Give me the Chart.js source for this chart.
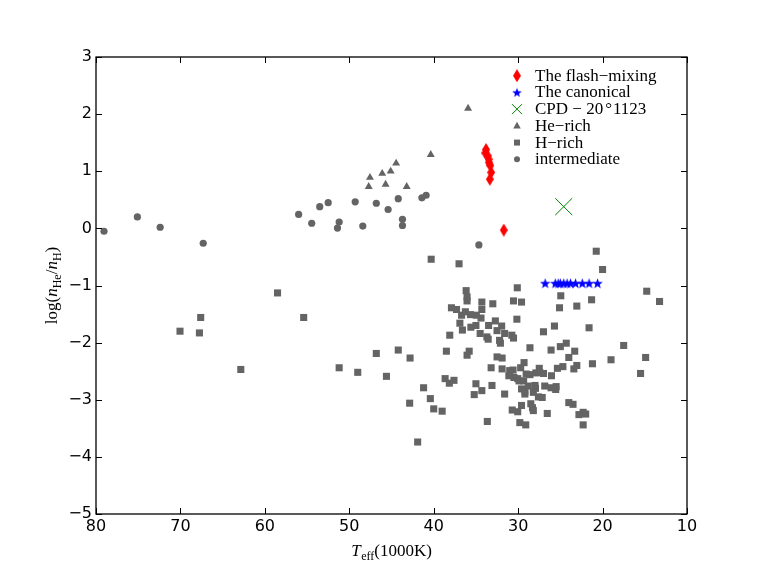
<!DOCTYPE html>
<html><head><meta charset="utf-8">
<script src="https://cdn.jsdelivr.net/npm/chart.js@4.4.0/dist/chart.umd.min.js"></script>
<style>html,body{margin:0;padding:0;background:#fff;}</style>
</head><body>
<canvas id="c" width="763" height="572" style="display:block;width:763px;height:572px"></canvas>
<script>
// ---- data (Teff in 1000K, log(nHe/nH)) ----
const xTicks = [80, 70, 60, 50, 40, 30, 20, 10];
const yTicks = [3, 2, 1, 0, -1, -2, -3, -4, -5];
const legendLabels = ['The flash\u2212mixing', 'The canonical', 'CPD', 'He\u2212rich', 'H\u2212rich', 'intermediate'];

const flashMixing = [[33.8,1.38],[33.9,1.32],[33.6,1.27],[33.5,1.21],[33.45,1.15],[33.3,1.10],[33.2,0.98],[33.35,0.86],[31.7,-0.03]];
const canonical = [[26.8,-0.96],[25.6,-0.96],[25.25,-0.96],[25.0,-0.96],[24.6,-0.96],[24.2,-0.96],[23.8,-0.96],[23.2,-0.96],[22.4,-0.96],[21.6,-0.96],[20.6,-0.96]];
const cpd = [[24.6,0.38]];
const heRich = [[35.93,2.10],[40.35,1.29],[44.45,1.14],[45.1,1.0],[46.1,0.96],[47.55,0.89],[47.7,0.73],[45.7,0.77],[43.2,0.73]];
const intermediate = [[79.05,-0.05],[75.1,0.20],[72.4,0.02],[67.3,-0.26],[56.0,0.245],[54.45,0.09],[53.5,0.38],[52.5,0.45],[51.4,0.005],[51.2,0.11],[49.3,0.465],[48.4,0.04],[46.8,0.44],[45.4,0.33],[44.2,0.52],[43.7,0.16],[43.7,0.05],[41.4,0.535],[40.9,0.58],[34.65,-0.29]];
const hRich = [
 [58.5,-1.13],[55.4,-1.56],[67.6,-1.56],[70.05,-1.80],[67.75,-1.83],[62.85,-2.47],[51.2,-2.44],[49.0,-2.52],[46.8,-2.19],[45.6,-2.59],
 [40.3,-0.54],[37.0,-0.62],[20.75,-0.40],[20.0,-0.72],[30.1,-1.04],[14.77,-1.10],
 [36.16,-1.09],[36.05,-1.20],[36.05,-1.27],[34.3,-1.29],[33.0,-1.32],[30.55,-1.27],[29.6,-1.29],[24.95,-1.18],[25.1,-1.39],[23.05,-1.36],[21.3,-1.25],[13.25,-1.28],
 [37.9,-1.39],[37.3,-1.42],[36.25,-1.46],[36.7,-1.52],[35.65,-1.51],[34.95,-1.52],[34.4,-1.57],[34.3,-1.42],
 [36.9,-1.66],[35.6,-1.73],[35.0,-1.70],[36.6,-1.78],[38.1,-1.87],[34.5,-1.84],[33.5,-1.70],[32.7,-1.62],[31.95,-1.71],[32.5,-1.79],[31.6,-1.84],[33.7,-1.90],[33.55,-1.94],[32.2,-1.96],[32.1,-2.01],[30.75,-1.87],[30.55,-1.92],[30.15,-1.59],[27.0,-1.81],[25.7,-1.71],[21.6,-1.74],
 [44.2,-2.13],[42.8,-2.27],[38.5,-2.15],[35.8,-2.15],[36.05,-2.22],[28.6,-2.09],[26.1,-2.13],[25.0,-2.07],[24.3,-2.01],[23.3,-2.15],[24.0,-2.26],[17.5,-2.05],[19.0,-2.30],[14.9,-2.26],[15.5,-2.54],[21.2,-2.37],[23.05,-2.40],[23.4,-2.46],[24.7,-2.42],[25.35,-2.45],
 [32.5,-2.25],[31.9,-2.27],[33.2,-2.44],[31.9,-2.46],[31.0,-2.49],[31.1,-2.58],[30.6,-2.48],[29.7,-2.44],[29.3,-2.35],[29.05,-2.55],[28.6,-2.56],[27.9,-2.53],[27.5,-2.45],[27.45,-2.52],[27.0,-2.54],[26.05,-2.58],
 [30.5,-2.61],[30.05,-2.63],[29.9,-2.67],[29.35,-2.67],[38.65,-2.63],[38.15,-2.71],[37.6,-2.66],[35.0,-2.72],[33.1,-2.75],[41.2,-2.79],[34.3,-2.84],[35.2,-2.91],[40.4,-2.98],[42.85,-3.06],[40.0,-3.16],[39.0,-3.20],[31.6,-2.90],
 [29.6,-2.81],[29.2,-2.85],[29.2,-2.90],[28.8,-2.76],[28.0,-2.75],[28.2,-2.87],[27.95,-2.80],[27.6,-2.95],[27.15,-2.96],[26.85,-2.76],[26.1,-2.79],[25.5,-2.77],[25.55,-2.82],
 [29.6,-3.10],[30.7,-3.18],[30.05,-3.21],[28.5,-3.07],[28.3,-3.14],[28.2,-3.19],[26.55,-3.24],[24.0,-3.05],[23.5,-3.08],[22.8,-3.26],[22.3,-3.22],[22.0,-3.25],[22.3,-3.44],[33.65,-3.38],[29.8,-3.40],[29.1,-3.44],[41.9,-3.74]
];

// ---- marker images ----
function makeDiamond(w, h, color) {
  const c = document.createElement('canvas'); c.width = w; c.height = h;
  const g = c.getContext('2d'); g.fillStyle = color; g.beginPath();
  g.moveTo(w/2, 0); g.lineTo(w, h/2); g.lineTo(w/2, h); g.lineTo(0, h/2); g.closePath(); g.fill();
  return c;
}
function makeStar(s, color) {
  const c = document.createElement('canvas'); c.width = s; c.height = s;
  const g = c.getContext('2d'); g.fillStyle = color; g.beginPath();
  const R = s/2, r = R*0.42, cx = s/2, cy = s/2 + 0.5;
  for (let i = 0; i < 10; i++) {
    const a = -Math.PI/2 + i*Math.PI/5, rr = i%2 ? r : R;
    const px = cx + rr*Math.cos(a), py = cy + rr*Math.sin(a);
    i ? g.lineTo(px, py) : g.moveTo(px, py);
  }
  g.closePath(); g.fill();
  return c;
}
const GRAY = '#646464';
const diamondImg = makeDiamond(8, 13, '#ff0000');
const starImg = makeStar(11, '#0000ff');

const pts = a => a.map(p => ({x: p[0], y: p[1]}));
const fmt = v => v < 0 ? '\u2212' + Math.abs(v) : String(v);

const serif = '"Liberation Serif", "Times New Roman", serif';

function drawRich(ctx, pieces, x, base) {
  let cx = x;
  pieces.forEach(p => {
    ctx.font = p.f; ctx.fillText(p.t, cx, base + (p.dy || 0));
    cx += ctx.measureText(p.t).width + (p.gap || 0);
  });
}
function richWidth(ctx, pieces) {
  let w = 0;
  pieces.forEach(p => { ctx.font = p.f; w += ctx.measureText(p.t).width + (p.gap || 0); });
  return w;
}

const deco = {
  id: 'deco',
  afterDraw(chart) {
    const {ctx, chartArea: a, scales: {x, y}} = chart;
    ctx.save();
    ctx.strokeStyle = '#000'; ctx.lineWidth = 1;
    ctx.beginPath();
    xTicks.forEach(v => {
      const px = Math.round(x.getPixelForValue(v)) + 0.5;
      ctx.moveTo(px, a.bottom); ctx.lineTo(px, a.bottom - 6);
      ctx.moveTo(px, a.top); ctx.lineTo(px, a.top + 6);
    });
    yTicks.forEach(v => {
      const py = Math.round(y.getPixelForValue(v)) + 0.5;
      ctx.moveTo(a.left, py); ctx.lineTo(a.left + 6, py);
      ctx.moveTo(a.right, py); ctx.lineTo(a.right - 6, py);
    });
    ctx.stroke();
    ctx.lineWidth = 1.3;
    ctx.strokeRect(a.left, a.top, a.right - a.left, a.bottom - a.top);

    // legend
    const fs = 17, F = fs + 'px ' + serif;
    const lx = 517, tx = 535;
    ctx.fillStyle = '#000'; ctx.textBaseline = 'alphabetic'; ctx.textAlign = 'left';
    for (let i = 0; i < 6; i++) {
      const cy = 75.7 + i * 16.72;
      ctx.save();
      if (i === 0) ctx.drawImage(diamondImg, lx - 4, cy - 6.5);
      else if (i === 1) ctx.drawImage(makeStar(10, '#0000ff'), lx - 5, cy - 5);
      else if (i === 2) {
        ctx.strokeStyle = '#008000'; ctx.lineWidth = 1; ctx.beginPath();
        ctx.moveTo(lx - 5, cy - 5); ctx.lineTo(lx + 5, cy + 5); ctx.moveTo(lx + 5, cy - 5); ctx.lineTo(lx - 5, cy + 5); ctx.stroke();
      } else {
        ctx.fillStyle = GRAY; ctx.beginPath();
        if (i === 3) { ctx.moveTo(lx, cy - 4); ctx.lineTo(lx + 3.8, cy + 2.6); ctx.lineTo(lx - 3.8, cy + 2.6); ctx.closePath(); }
        else if (i === 4) { ctx.rect(lx - 3, cy - 3, 6, 6); }
        else { ctx.arc(lx, cy, 3, 0, Math.PI * 2); }
        ctx.fill();
      }
      ctx.restore();
      ctx.fillStyle = '#000';
      if (i === 2) {
        drawRich(ctx, [
          {t: 'CPD \u2212 20', f: F, gap: 2},
          {t: '\u00b0', f: F, gap: 1},
          {t: '1123', f: F}
        ], tx, cy + 5);
      } else {
        ctx.font = F; ctx.fillText(legendLabels[i], tx, cy + 5);
      }
    }

    // axis titles
    const M = '17px ' + serif, I = 'italic 17px ' + serif, S = '12px ' + serif;
    const xt = [{t: 'T', f: I, gap: 0.5}, {t: 'eff', f: S, dy: 3.5}, {t: '(1000K)', f: M}];
    const xw = richWidth(ctx, xt);
    drawRich(ctx, xt, (a.left + a.right) / 2 - xw / 2, 556);

    const yt = [{t: 'log(', f: M}, {t: 'n', f: I}, {t: 'He', f: S, dy: 3.5}, {t: '/', f: M}, {t: 'n', f: I}, {t: 'H', f: S, dy: 3.5}, {t: ')', f: M}];
    const yw = richWidth(ctx, yt);
    ctx.translate(57, (a.top + a.bottom) / 2);
    ctx.rotate(-Math.PI / 2);
    drawRich(ctx, yt, -yw / 2, 0);
    ctx.restore();
  }
};

new Chart(document.getElementById('c'), {
  type: 'scatter',
  data: {
    datasets: [
      {label: legendLabels[0], data: pts(flashMixing), pointStyle: diamondImg, pointRadius: 6},
      {label: legendLabels[1], data: pts(canonical), pointStyle: starImg, pointRadius: 6},
      {label: 'CPD \u2212 20\u00b01123', data: pts(cpd), pointStyle: 'crossRot', pointRadius: 12, borderColor: '#008000', backgroundColor: '#008000', borderWidth: 1},
      {label: legendLabels[3], data: pts(heRich), pointStyle: 'triangle', pointRadius: 4.6, backgroundColor: GRAY, borderColor: GRAY, borderWidth: 0},
      {label: legendLabels[4], data: pts(hRich), pointStyle: 'rect', pointRadius: 5, backgroundColor: GRAY, borderColor: GRAY, borderWidth: 0},
      {label: legendLabels[5], data: pts(intermediate), pointStyle: 'circle', pointRadius: 3.6, backgroundColor: GRAY, borderColor: GRAY, borderWidth: 0}
    ]
  },
  options: {
    responsive: false,
    animation: false,
    devicePixelRatio: 1,
    events: [],
    layout: {padding: {left: 0, top: 57, right: 76, bottom: 0}},
    plugins: {legend: {display: false}, tooltip: {enabled: false}},
    scales: {
      x: {
        type: 'linear', min: 10, max: 80, reverse: true,
        afterBuildTicks: s => { s.ticks = xTicks.map(v => ({value: v})); },
        afterFit: s => { s.height = 58; },
        grid: {display: false, drawTicks: false},
        border: {display: false},
        ticks: {color: '#000', padding: 3, font: {family: '"DejaVu Sans", sans-serif', size: 16}, maxRotation: 0, callback: v => fmt(v)}
      },
      y: {
        type: 'linear', min: -5, max: 3,
        afterBuildTicks: s => { s.ticks = yTicks.map(v => ({value: v})); },
        afterFit: s => { s.width = 96; },
        grid: {display: false, drawTicks: false},
        border: {display: false},
        ticks: {color: '#000', padding: 4, font: {family: '"DejaVu Sans", sans-serif', size: 16}, callback: v => fmt(v)}
      }
    }
  },
  plugins: [deco]
});
</script>
</body></html>
